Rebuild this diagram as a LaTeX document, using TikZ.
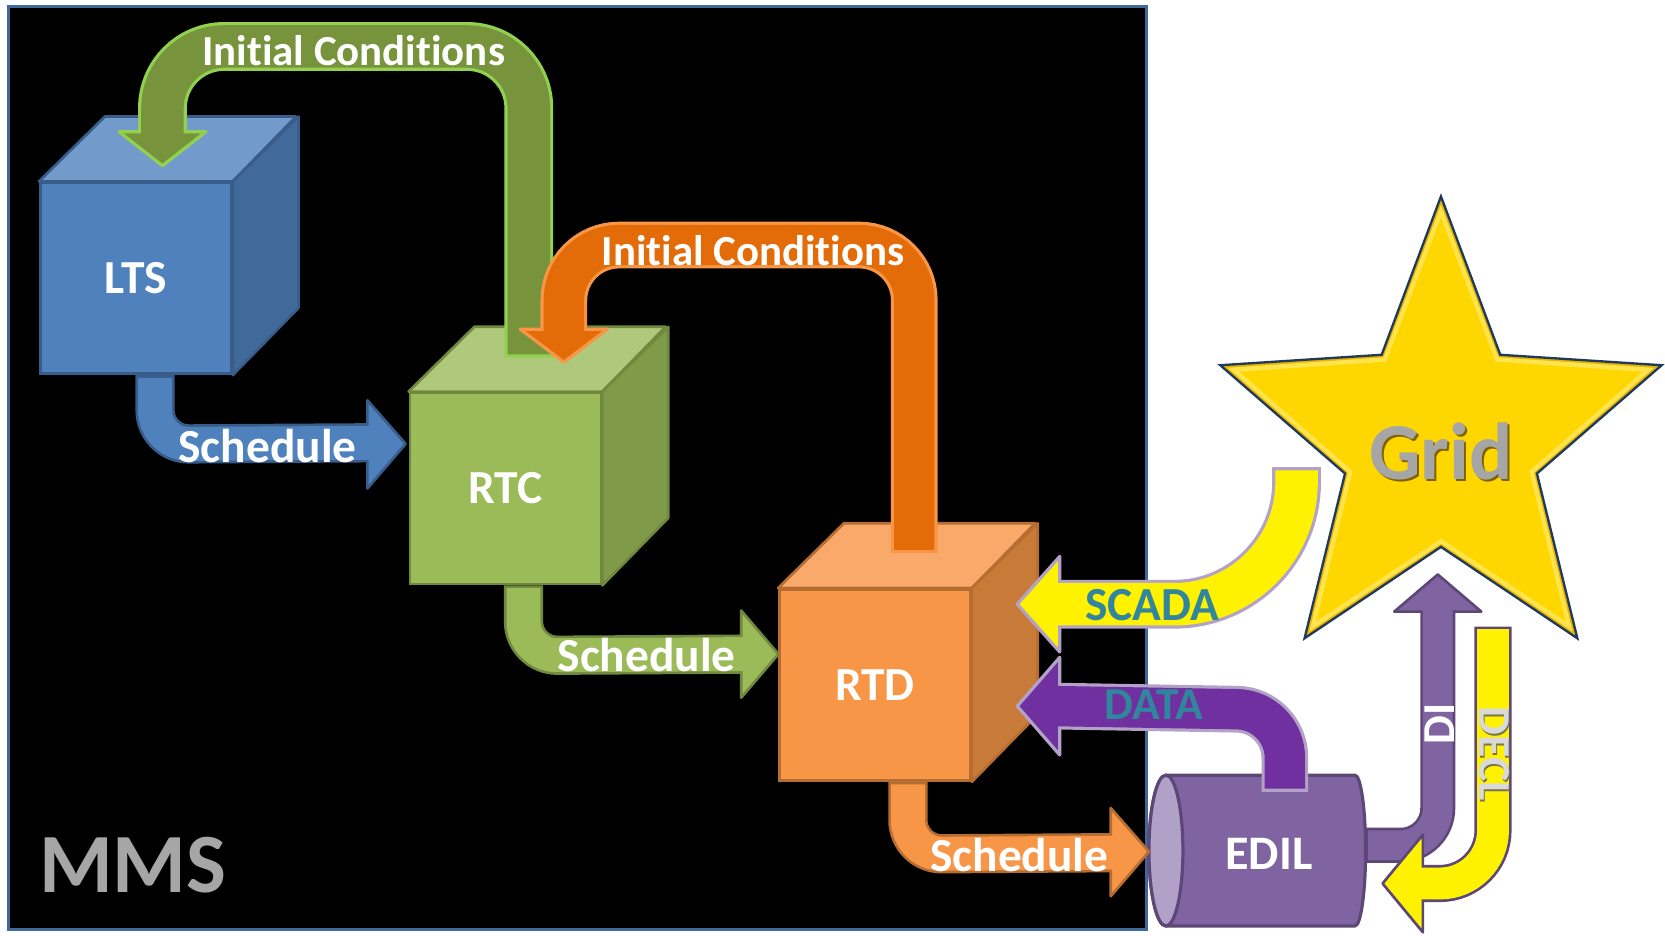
\documentclass[tikz,border=0pt]{standalone}
\usepackage{fontspec}
\setmainfont{Carlito}[Ligatures=NoCommon]
\usetikzlibrary{calc}

% one drawing unit in points, for line widths and radii
\def\pxl{0.30214pt}

\definecolor{frameedge}{HTML}{41689B}
\definecolor{ltsF}{HTML}{4F81BD}\definecolor{ltsT}{HTML}{729ACB}
\definecolor{ltsS}{HTML}{41699A}\definecolor{ltsE}{HTML}{385D8A}
\definecolor{rtcF}{HTML}{9BBB59}\definecolor{rtcT}{HTML}{AFC97C}
\definecolor{rtcS}{HTML}{7F9A48}\definecolor{rtcE}{HTML}{71893F}
\definecolor{rtdF}{HTML}{F79646}\definecolor{rtdT}{HTML}{F9AA6A}
\definecolor{rtdS}{HTML}{C87A38}\definecolor{rtdE}{HTML}{B66D31}
\definecolor{icgF}{HTML}{77933C}\definecolor{icgE}{HTML}{92D050}
\definecolor{icoF}{HTML}{E36C09}\definecolor{icoE}{HTML}{F79646}
\definecolor{lilac}{HTML}{B3A2C7}
\definecolor{dataF}{HTML}{7030A0}
\definecolor{edilF}{HTML}{8064A2}\definecolor{edilE}{HTML}{5C4776}
\definecolor{edilL}{HTML}{B1A0C7}
\definecolor{teal}{HTML}{31859C}
\definecolor{labelgrey}{HTML}{A6A6A6}
\definecolor{starF}{HTML}{FFD700}\definecolor{starD}{HTML}{E8B400}
\definecolor{starH}{HTML}{FFE44D}
\definecolor{starE}{HTML}{1F3A5C}
\definecolor{declT}{HTML}{D9D9D9}

% block arrow: #1 fill, #2 edge, #3 band width, #4 edge width,
% #5 corner radius, #6 band path, #7 head outline
\newcommand\bandarrow[7]{%
  \draw[draw=#2, line width={(#3+2*#4)*\pxl}, rounded corners={#5*\pxl}] #6;
  \filldraw[fill=#1, draw=#2, line width={#4*\pxl}, line join=round] #7 -- cycle;
  \draw[draw=#1, line width={#3*\pxl}, rounded corners={#5*\pxl},
        shorten <={#4*\pxl}, shorten >={-4*\pxl}] #6;
}

% cube: #1 name, #2 centre of front face, #3 label, #4 front, #5 top, #6 side, #7 edge
\newcommand\cubebox[7]{%
  \node[cubeface, fill=#4, draw=#7] (#1) at #2 {#3};
  \filldraw[fill=#5, draw=#7, line width=2.5*\pxl, line join=round]
    (#1.north west) -- ++(62,-61) -- ++(180,0) -- (#1.north east) -- cycle;
  \filldraw[fill=#6, draw=#7, line width=2.5*\pxl, line join=round]
    (#1.north east) -- ++(62,-61) -- ++(0,180) -- (#1.south east) -- cycle;
}

\begin{document}
\begin{tikzpicture}[x=0.010619cm, y=-0.010619cm,
  cubeface/.style={rectangle, minimum width=180*\pxl, minimum height=180*\pxl,
    inner sep=0pt, line width=2.5*\pxl, text=white,
    font=\bfseries\fontsize{13.5}{15}\selectfont},
  flowlabel/.style={text=white, inner sep=0pt, font=\bfseries\fontsize{13.5}{15}\selectfont},
  iclabel/.style={text=white, inner sep=0pt, font=\bfseries\fontsize{12.2}{14}\selectfont},
  linklabel/.style={text=teal, inner sep=0pt, font=\bfseries\fontsize{13.5}{15}\selectfont},
  biglabel/.style={text=labelgrey, inner sep=0pt, font=\bfseries\fontsize{24}{26}\selectfont}]

\useasboundingbox (0,0) rectangle (1568,881);
\fill[white] (0,0) rectangle (1568,881);

% MMS frame
\draw[fill=black, draw=frameedge, line width=3*\pxl] (8,6) rectangle (1080,875);
\node[biglabel] (mms) at (125,815) {MMS};

% the three planning cubes
\cubebox{lts}{(128,262)}{LTS}{ltsF}{ltsT}{ltsS}{ltsE}
\cubebox{rtc}{(476,460)}{RTC}{rtcF}{rtcT}{rtcS}{rtcE}
\cubebox{rtd}{(824,645)}{RTD}{rtdF}{rtdT}{rtdS}{rtdE}

% schedules passed down the chain
\bandarrow{ltsF}{ltsE}{32}{2.5}{32}
  {($(lts.south)+(18,0)$) -- ++(0,65) -- (346,417)}
  {(346,377) -- (382,418) -- (346,460)}
\node[flowlabel] (sch1) at (252,420) {Schedule};

\bandarrow{rtcF}{rtcE}{32}{2.5}{32}
  {($(rtc.south)+(17,0)$) -- ++(0,66) -- (698,616)}
  {(698,575) -- (733,616) -- (698,657)}
\node[flowlabel] (sch2) at (609,617) {Schedule};

% initial conditions fed back
\bandarrow{icgF}{icgE}{40}{3}{58}
  {($(rtc.north)+(22,-32)$) -- ++(0,-293) -- ++(-345,0) -- ++(0,79)}
  {(112,124) -- (194,124) -- (153,156)}
\node[iclabel] (ic1) at (333,48) {Initial Conditions};

\bandarrow{icoF}{icoE}{38}{3}{52}
  {($(rtd.north)+(37,-33)$) -- ++(0,-290) -- ++(-330,0) -- ++(0,78)}
  {(490,310) -- (572,310) -- (531,341)}
\node[iclabel] (ic2) at (709,236) {Initial Conditions};

% EDIL cylinder
\filldraw[fill=edilF, draw=edilE, line width=3*\pxl, line join=round]
  (1098,730) -- (1276,730) arc[start angle=-90, end angle=90, x radius=10, y radius=71]
  -- (1098,872) arc[start angle=90, end angle=270, x radius=16, y radius=71] -- cycle;
\filldraw[fill=edilL, draw=edilE, line width=3*\pxl] (1098,801) ellipse [x radius=16, y radius=71];
\node[text=white, inner sep=0pt, font=\bfseries\fontsize{13.7}{15}\selectfont] (edil) at (1195,804) {EDIL};

\bandarrow{rtdF}{rtdE}{32}{2.5}{32}
  {($(rtd.south)+(31,0)$) -- ++(0,68) -- (1046,803)}
  {(1046,761) -- (1082,802) -- (1046,844)}
\node[flowlabel] (sch3) at (960,805) {Schedule};

% star for the grid, with a bevelled rim
\begin{scope}[shift={(1357,415)}, xscale=0.95]
  \filldraw[fill=starD, draw=starE, line width=2.2*\pxl, line join=miter]
    (-90:230) -- (-54:100) -- (-18:230) -- (18:100) -- (54:230) -- (90:100)
    -- (126:230) -- (162:100) -- (198:230) -- (234:100) -- cycle;
  \fill[starH]
    (-90:222) -- (-54:97) -- (-18:222) -- (18:97) -- (54:222) -- (90:97)
    -- (126:222) -- (162:97) -- (198:222) -- (234:97) -- cycle;
  \fill[starF]
    (-90:210) -- (-54:92) -- (-18:210) -- (18:92) -- (54:210) -- (90:92)
    -- (126:210) -- (162:92) -- (198:210) -- (234:92) -- cycle;
\end{scope}
\node[biglabel, text=black!45!starD, font=\bfseries\fontsize{23}{25}\selectfont] at (1359,427) {Grid};
\node[biglabel, font=\bfseries\fontsize{23}{25}\selectfont] (grid) at (1357,425) {Grid};

% links between EDIL, the grid and RTD
\bandarrow{yellow}{lilac}{40}{3}{115}
  {(1221,440) -- (1221,569) -- (998,569)}
  {(998,524) -- (958,569) -- (998,614)}
\node[linklabel] (scada) at (1085,570) {SCADA};

\bandarrow{dataF}{lilac}{38}{3}{45}
  {($(edil.north)+(15,-43)$) -- ++(0,-77) -- (998,665)}
  {(998,619) -- (958,665) -- (998,711)}
\node[linklabel, font=\bfseries\fontsize{13}{15}\selectfont] (data) at (1087,664) {DATA};

\bandarrow{edilF}{edilE}{28}{2.5}{35}
  {(1286,796) -- (1354,796) -- (1354,576)}
  {(1313,576) -- (1354,541) -- (1395,576)}
\node[text=white, inner sep=0pt, rotate=90, font=\bfseries\fontsize{13}{15}\selectfont] (di) at (1356,682) {DI};

\bandarrow{yellow}{edilE}{30}{2.5}{50}
  {(1406,590) -- (1406,832) -- (1340,832)}
  {(1340,786) -- (1302,832) -- (1340,878)}
\node[text=black!60!yellow, inner sep=0pt, rotate=-90, font=\bfseries\fontsize{13}{15}\selectfont] at (1408.5,711.5) {DECL};
\node[text=declT, inner sep=0pt, rotate=-90, font=\bfseries\fontsize{13}{15}\selectfont] (decl) at (1407,710) {DECL};

\end{tikzpicture}
\end{document}
